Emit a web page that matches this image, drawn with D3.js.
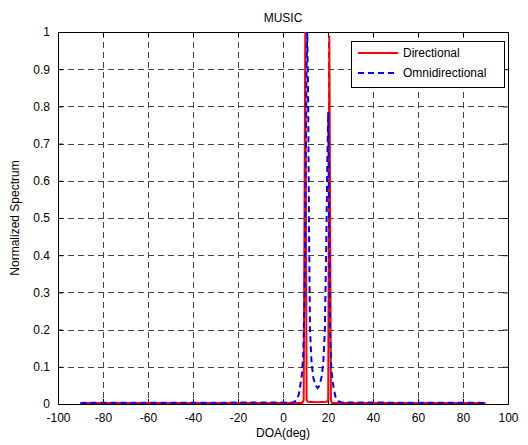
<!DOCTYPE html>
<html>
<head>
<meta charset="utf-8">
<script src="https://cdn.jsdelivr.net/npm/d3@7"></script>
<style>
  html, body { margin: 0; padding: 0; background: #fff; }
  svg { display: block; font-family: "Liberation Sans", Arial, sans-serif; }
</style>
</head>
<body>
<svg id="chart" width="528" height="445"></svg>
<script>
// MUSIC pseudo-spectrum, normalized, for two antenna configurations
const doaDirectional = [-90, 8.5, 9.2, 9.9, 10.5, 11.0, 15.0, 19.5, 20.1, 20.6, 21.3, 21.8, 90];
const specDirectional = [0.003, 0.003, 0.01, 1.0, 0.012, 0.006, 0.005, 0.006, 0.012, 0.99, 0.01, 0.003, 0.003];

const doaOmni = [-90, 4.5, 6.0, 7.0, 7.6, 8.4, 9.0, 9.6, 10.1, 10.5, 10.8, 11.2, 11.6, 12.0, 12.7, 13.5, 14.5, 15.4, 16.3, 17.2, 17.9, 18.6, 19.2, 19.7, 20.1, 20.5, 20.9, 21.5, 22.4, 23.3, 24.5, 26.0, 90];
const specOmni = [0.003, 0.004, 0.01, 0.025, 0.047, 0.08, 0.13, 0.3, 0.65, 0.92, 1.0, 0.8, 0.45, 0.2, 0.11, 0.07, 0.05, 0.043, 0.05, 0.075, 0.11, 0.2, 0.42, 0.65, 0.785, 0.5, 0.2, 0.09, 0.047, 0.02, 0.008, 0.004, 0.003];

const xTicks = [-100, -80, -60, -40, -20, 0, 20, 40, 60, 80, 100];
const yTicks = [0, 0.1, 0.2, 0.3, 0.4, 0.5, 0.6, 0.7, 0.8, 0.9, 1];
const seriesNames = ["Directional", "Omnidirectional"];

const margin = { left: 58, top: 32, right: 20, bottom: 41 };
const W = 528, H = 445;
const pw = W - margin.left - margin.right;   // 450
const ph = H - margin.top - margin.bottom;   // 372

const svg = d3.select("#chart");
const g = svg.append("g").attr("transform", `translate(${margin.left},${margin.top})`);

const x = d3.scaleLinear().domain([-100, 100]).range([0, pw]);
const y = d3.scaleLinear().domain([0, 1]).range([ph, 0]);

// grid
const grid = g.append("g").attr("shape-rendering", "crispEdges");
grid.selectAll(".gx").data(xTicks.slice(1, -1)).join("line")
  .attr("x1", d => Math.round(x(d)) + 0.5).attr("x2", d => Math.round(x(d)) + 0.5)
  .attr("y1", 0).attr("y2", ph)
  .attr("stroke", "#444").attr("stroke-width", 1).attr("stroke-dasharray", "6,4");
grid.selectAll(".gy").data(yTicks.slice(1, -1)).join("line")
  .attr("y1", d => Math.round(y(d)) + 0.5).attr("y2", d => Math.round(y(d)) + 0.5)
  .attr("x1", 0).attr("x2", pw)
  .attr("stroke", "#444").attr("stroke-width", 1).attr("stroke-dasharray", "6,4");

// axes with inward ticks
const axisFont = g => g.selectAll("text").attr("font-size", 12).attr("fill", "#000")
  .attr("font-family", "'Liberation Sans', Arial, sans-serif");

const xAxis = g.append("g").attr("transform", `translate(0,${ph})`)
  .call(d3.axisBottom(x).tickValues(xTicks).tickSize(-5).tickPadding(9).tickFormat(d => String(d)));
xAxis.call(axisFont);
const yAxis = g.append("g")
  .call(d3.axisLeft(y).tickValues(yTicks).tickSize(-5).tickPadding(8).tickFormat(d => String(d)));
yAxis.call(axisFont);
g.append("g").call(d3.axisTop(x).tickValues(xTicks).tickSize(-5).tickFormat(""));
g.append("g").attr("transform", `translate(${pw},0)`)
  .call(d3.axisRight(y).tickValues(yTicks).tickSize(-5).tickFormat(""));
g.selectAll(".domain").remove();
g.selectAll(".tick line").attr("stroke", "#000");

// box
g.append("rect").attr("x", 0.5).attr("y", 0.5).attr("width", pw).attr("height", ph)
  .attr("fill", "none").attr("stroke", "#000").attr("stroke-width", 1).attr("shape-rendering", "crispEdges");

// curves
const line = d3.line().x(d => x(d[0])).y(d => y(d[1]));
const dirData = d3.zip(doaDirectional, specDirectional);
const omniData = d3.zip(doaOmni, specOmni);

g.append("clipPath").attr("id", "plotclip").append("rect")
  .attr("x", 0).attr("y", -1).attr("width", pw).attr("height", ph + 1);

g.append("path").datum(dirData).attr("d", line)
  .attr("fill", "none").attr("stroke", "#ff0000").attr("stroke-width", 2)
  .attr("stroke-linejoin", "miter").attr("stroke-miterlimit", 1.5)
  .attr("clip-path", "url(#plotclip)");
g.append("path").datum(omniData).attr("d", line)
  .attr("fill", "none").attr("stroke", "#0000ff").attr("stroke-width", 2)
  .attr("stroke-dasharray", "6,4").attr("clip-path", "url(#plotclip)");

// labels
svg.append("text").attr("x", margin.left + pw / 2).attr("y", 22).attr("text-anchor", "middle")
  .attr("font-size", 12).text("MUSIC");
svg.append("text").attr("x", margin.left + pw / 2).attr("y", 437).attr("text-anchor", "middle")
  .attr("font-size", 12).text("DOA(deg)");
svg.append("text").attr("transform", `translate(19,${margin.top + ph / 2}) rotate(-90)`)
  .attr("text-anchor", "middle").attr("font-size", 12).text("Normalized Spectrum");

// legend
const lg = svg.append("g").attr("transform", "translate(351,41)");
lg.append("rect").attr("x", 0.5).attr("y", 0.5).attr("width", 153).attr("height", 46)
  .attr("fill", "#fff").attr("stroke", "#000").attr("stroke-width", 1).attr("shape-rendering", "crispEdges");
const colors = ["#ff0000", "#0000ff"];
const dashes = [null, "6,4"];
seriesNames.forEach((name, i) => {
  const yy = 12 + i * 20;
  lg.append("line").attr("x1", 7).attr("x2", 47).attr("y1", yy).attr("y2", yy)
    .attr("stroke", colors[i]).attr("stroke-width", 2).attr("stroke-dasharray", dashes[i]);
  lg.append("text").attr("x", 52).attr("y", yy + 4).attr("font-size", 12).text(name);
});
</script>
</body>
</html>
